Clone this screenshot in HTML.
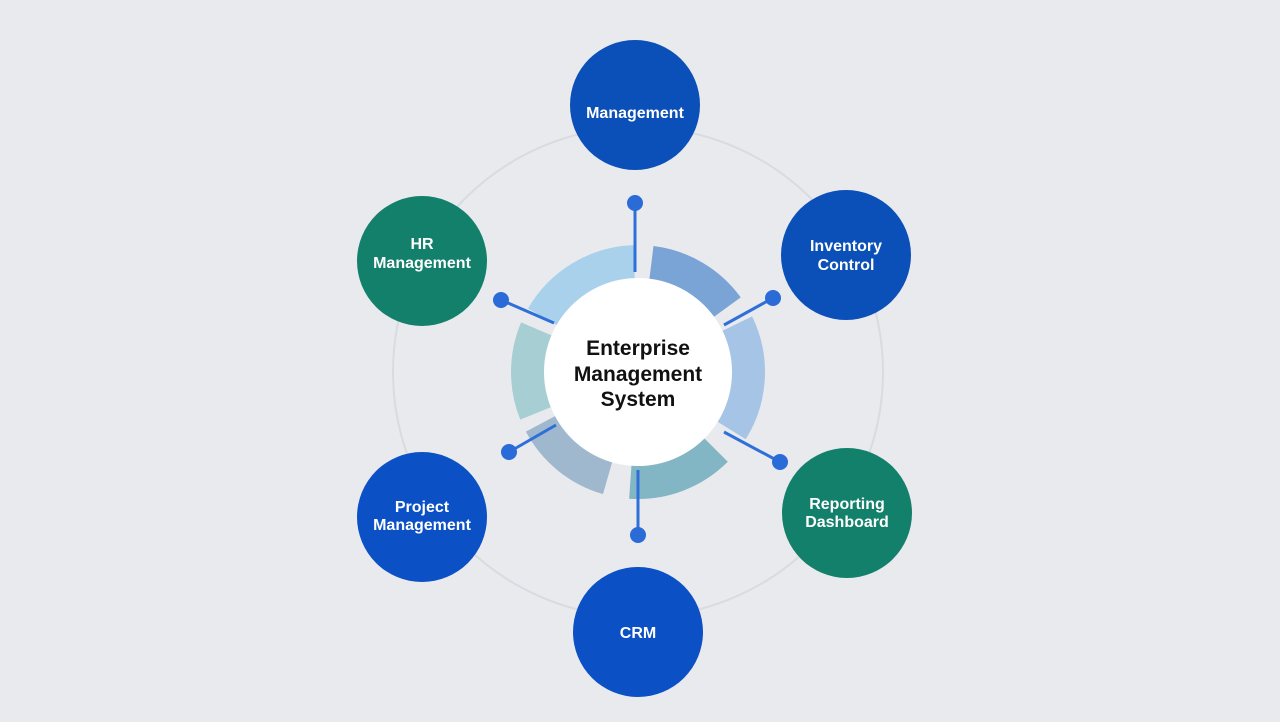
<!DOCTYPE html>
<html><head><style>
body{margin:0;width:1280px;height:722px;background:#e8e9ed;overflow:hidden}
svg{display:block}
text{font-family:"Liberation Sans",sans-serif;font-weight:bold;text-anchor:middle}
</style></head><body>
<svg width="1280" height="722" viewBox="0 0 1280 722">
<rect width="1280" height="722" fill="#e9eaee"/>
<circle cx="638" cy="372" r="245" fill="none" stroke="#d8dbe0" stroke-width="2"/>
<g fill="none" stroke-width="36"></g>
<script>
function arc(a1,a2,r){var c=[638,372];function p(a){var t=(a-90)*Math.PI/180;return [c[0]+r*Math.cos(t),c[1]+r*Math.sin(t)];}
var s=p(a1),e=p(a2),l=((a2-a1+360)%360)>180?1:0;return 'M'+s[0]+' '+s[1]+' A'+r+' '+r+' 0 '+l+' 1 '+e[0]+' '+e[1];}
var segs=[[300,358,'#a9d1ec'],[7,54,'#7ba4d6'],[64,122,'#a6c5e6'],[135,184,'#83b6c4'],[196,242,'#9fb8cd'],[248,293,'#a7cfd3']];
var g=document.querySelector('g');
segs.forEach(function(s){var p=document.createElementNS('http://www.w3.org/2000/svg','path');p.setAttribute('d',arc(s[0],s[1],109));p.setAttribute('stroke',s[2]);g.appendChild(p);});
</script>
<circle cx="638" cy="372" r="94" fill="#fff"/>
<g stroke="#2f6fd9" stroke-width="3">
<line x1="635" y1="203" x2="635" y2="272"/>
<line x1="773" y1="298" x2="724" y2="325"/>
<line x1="780" y1="462" x2="724" y2="432"/>
<line x1="638" y1="535" x2="638" y2="470"/>
<line x1="509" y1="452" x2="556" y2="425"/>
<line x1="501" y1="300" x2="554" y2="323"/>
</g>
<g fill="#2a6bd8">
<circle cx="635" cy="203" r="8"/><circle cx="773" cy="298" r="8"/><circle cx="780" cy="462" r="8"/>
<circle cx="638" cy="535" r="8"/><circle cx="509" cy="452" r="8"/><circle cx="501" cy="300" r="8"/>
</g>
<text x="638" y="355" font-size="21" fill="#111">Enterprise</text>
<text x="638" y="381" font-size="21" fill="#111">Management</text>
<text x="638" y="406" font-size="21" fill="#111">System</text>
<g font-size="16" fill="#fff">
<circle cx="635" cy="105" r="65" fill="#0b4fb8"/><text x="635" y="118" fill="#fff">Management</text>
<circle cx="846" cy="255" r="65" fill="#0b4fb8"/><text x="846" y="251" fill="#fff">Inventory</text><text x="846" y="270" fill="#fff">Control</text>
<circle cx="847" cy="513" r="65" fill="#13806b"/><text x="847" y="509" fill="#fff">Reporting</text><text x="847" y="527" fill="#fff">Dashboard</text>
<circle cx="638" cy="632" r="65" fill="#0b50c4"/><text x="638" y="638" fill="#fff">CRM</text>
<circle cx="422" cy="517" r="65" fill="#0b50c4"/><text x="422" y="512" fill="#fff">Project</text><text x="422" y="530" fill="#fff">Management</text>
<circle cx="422" cy="261" r="65" fill="#13806b"/><text x="422" y="249" fill="#fff">HR</text><text x="422" y="268" fill="#fff">Management</text>
</g>
</svg>
</body></html>
